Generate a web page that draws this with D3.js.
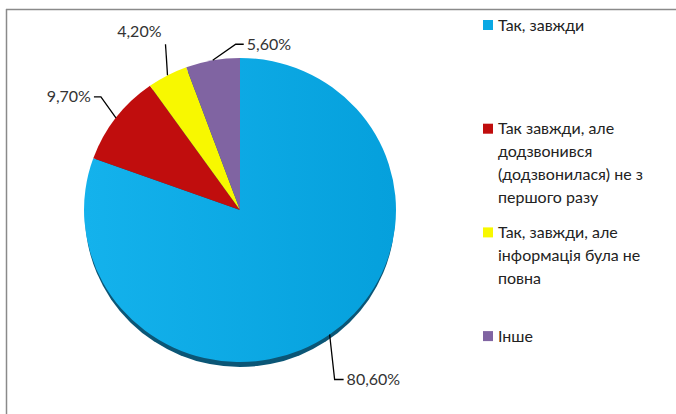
<!DOCTYPE html>
<html>
<head>
<meta charset="utf-8">
<script src="https://cdn.jsdelivr.net/npm/d3@7"></script>
<style>
  html, body { margin: 0; padding: 0; background: #fff; }
  svg { display: block; }
  text { font-family: Lato, "Open Sans", sans-serif; }
</style>
</head>
<body>
<svg id="chart" width="676" height="414"></svg>
<script>
// ---- data ----
const categories = [
  "Так, завжди",
  "Так завжди, але додзвонився (додзвонилася) не з першого разу",
  "Так, завжди, але інформація була не повна",
  "Інше"
];
const legendLines = [
  ["Так, завжди"],
  ["Так завжди, але", "додзвонився", "(додзвонилася) не з", "першого разу"],
  ["Так, завжди, але", "інформація була не", "повна"],
  ["Інше"]
];
const values = [80.6, 9.7, 4.2, 5.6];
const valueLabels = ["80,60%", "9,70%", "4,20%", "5,60%"];
const colors = ["#0aa8e4", "#c00d0d", "#f8f800", "#8064a2"];

// ---- layout ----
const W = 676, H = 414;
const cx = 240, cy = 210, R = 156, yScale = 0.975;
// leader elbow offsets relative to slice rim point, and label side
const leaderLayout = [
  { elbow: [5, 45], end: [9, 0], anchor: "start" },
  { elbow: [-15, -21], end: [-7, 0], anchor: "end" },
  { elbow: [-2, -31], end: [0, 0], anchor: "end", above: true },
  { elbow: [23, -16], end: [8, 0], anchor: "start" }
];

const svg = d3.select("#chart");

// frame (partially visible border)
svg.append("line").attr("x1", 6).attr("x2", W).attr("y1", 9.5).attr("y2", 9.5)
  .attr("stroke", "#8a8a8a").attr("stroke-width", 1.5);
svg.append("line").attr("x1", 6.5).attr("x2", 6.5).attr("y1", 9).attr("y2", H)
  .attr("stroke", "#8a8a8a").attr("stroke-width", 1.5);

const defs = svg.append("defs");
const grad = defs.append("linearGradient").attr("id", "blueGrad")
  .attr("x1", "0%").attr("x2", "100%").attr("y1", "0%").attr("y2", "0%");
grad.append("stop").attr("offset", "0%").attr("stop-color", "#14b2ec");
grad.append("stop").attr("offset", "100%").attr("stop-color", "#05a0dc");

const pie = d3.pie().sort(null).value(d => d);
const arcs = pie(values);
const arc = d3.arc().innerRadius(0).outerRadius(R);

const g = svg.append("g").attr("transform", `translate(${cx},${cy}) scale(1,${yScale})`);

// shadow rim
g.append("ellipse").attr("cx", 0).attr("cy", 5).attr("rx", R - 1).attr("ry", R)
  .attr("fill", "#0b5676");

g.selectAll("path.slice").data(arcs).enter().append("path")
  .attr("class", "slice")
  .attr("d", arc)
  .attr("fill", (d, i) => i === 0 ? "url(#blueGrad)" : colors[i]);

// labels with leader lines
const lab = svg.append("g");
arcs.forEach((d, i) => {
  const a = (d.startAngle + d.endAngle) / 2;
  const px = cx + R * Math.sin(a);
  const py = cy - R * Math.cos(a) * yScale;
  const L = leaderLayout[i];
  const ex = px + L.elbow[0], ey = py + L.elbow[1];
  const fx = ex + L.end[0], fy = ey + L.end[1];
  lab.append("path")
    .attr("d", d3.line()([[px, py], [ex, ey], [fx, fy]]))
    .attr("fill", "none").attr("stroke", "#000").attr("stroke-width", 1.3);
  const t = lab.append("text")
    .attr("font-size", 16).attr("fill", "#333")
    .text(valueLabels[i]);
  if (L.above) {
    t.attr("x", fx - 4).attr("y", fy - 7).attr("text-anchor", "end");
  } else {
    t.attr("x", fx + (L.anchor === "start" ? 3 : -3)).attr("y", fy)
      .attr("dy", "0.35em").attr("text-anchor", L.anchor);
  }
});

// legend
const legX = 483, legY0 = 25, legStep = 103.7, lineH = 23;
const leg = svg.append("g");
categories.forEach((c, i) => {
  const y = legY0 + i * legStep;
  leg.append("rect").attr("x", legX).attr("y", y - 5).attr("width", 10).attr("height", 10)
    .attr("fill", colors[i]);
  const t = leg.append("text").attr("x", legX + 15).attr("y", y)
    .attr("font-size", 16).attr("fill", "#222").attr("dy", "0.35em");
  legendLines[i].forEach((ln, j) => {
    t.append("tspan").attr("x", legX + 15).attr("y", y + j * lineH).attr("dy", "0.35em").text(ln);
  });
});
</script>
</body>
</html>
